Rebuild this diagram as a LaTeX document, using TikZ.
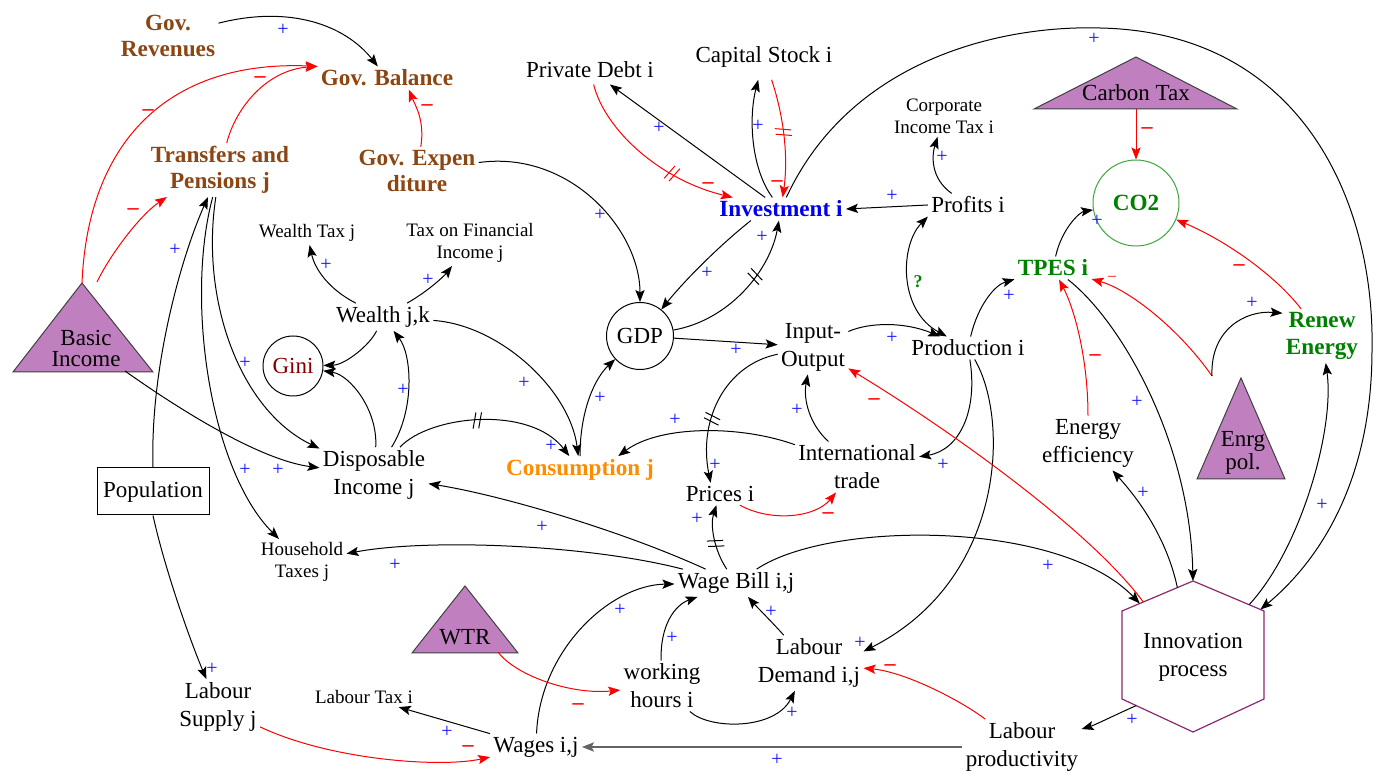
\documentclass[tikz,border=0pt]{standalone}
\usepackage{fontspec}
\setmainfont{Liberation Serif}
\usetikzlibrary{arrows.meta,decorations.markings,calc}
\definecolor{govbrown}{RGB}{140,70,20}
\definecolor{invblue}{RGB}{0,0,240}
\definecolor{ggreen}{RGB}{0,128,0}
\definecolor{co2line}{RGB}{60,165,60}
\definecolor{consorange}{RGB}{255,140,0}
\definecolor{ginired}{RGB}{130,0,0}
\definecolor{trifill}{RGB}{192,128,192}
\definecolor{hexline}{RGB}{140,40,110}
\definecolor{signblue}{RGB}{20,20,255}
\definecolor{prodgrey}{RGB}{100,100,100}
\begin{document}
\begin{tikzpicture}[x=0.5pt,y=-0.5pt,
 >={Stealth[length=6pt,width=4.6pt,inset=1.2pt]},
 lbl/.style={font=\fontsize{11.5}{14}\selectfont, align=center, inner sep=1.5pt},
 sm/.style={font=\fontsize{9.5}{11}\selectfont, align=center, inner sep=1.5pt},
 gov/.style={font=\fontsize{11.6}{13}\selectfont\bfseries, text=govbrown, align=center, inner sep=1.5pt},
 boldlbl/.style={font=\fontsize{11.6}{13.5}\selectfont\bfseries, align=center, inner sep=1.5pt},
 poslink/.style={->, black, line width=0.5pt},
 neglink/.style={->, red, line width=0.5pt},
 plussign/.style={text=signblue, font=\fontsize{10}{10}\selectfont, inner sep=0pt},
 minussign/.style={text=red, font=\fontsize{11}{11}\selectfont\bfseries, inner sep=0pt},
 delaymark/.style={postaction={decorate, decoration={markings, mark=at position #1 with {\draw[-] (-2.2pt,-4pt) -- (-0.6pt,4pt) (0.6pt,-4pt) -- (2.2pt,4pt);}}}},
 delaymark/.default=0.5,
 trishape/.style={fill=trifill, draw=black!75, line width=0.5pt}
]
\useasboundingbox (0,0) rectangle (1373,774);
\fill[white] (0,0) rectangle (1373,774);

% policy triangles
\path[trishape] (1034,109) -- (1136,57) -- (1237,109) -- cycle;
\path[trishape] (13,372) -- (82,283) -- (153,372) -- cycle;
\path[trishape] (1197,479) -- (1241,378) -- (1285,479) -- cycle;
\path[trishape] (412,653) -- (465,586) -- (518,653) -- cycle;
\coordinate (CTbase) at (1136,109);
\coordinate (BIapex) at (82,283);
\coordinate (BIapexR) at (97,282);
\coordinate (BIbase) at (125,371);
\coordinate (EPtop) at (1212,376);
\coordinate (WTRbase) at (498,652);

% hexagon
\coordinate (hxT) at (1193,581);
\coordinate (hxUR) at (1264,611);
\coordinate (hxLR) at (1264,699);
\coordinate (hxB) at (1193,732);
\coordinate (hxLL) at (1122,699);
\coordinate (hxUL) at (1122,611);
\draw[hexline, line width=0.6pt] (hxT) -- (hxUR) -- (hxLR) -- (hxB) -- (hxLL) -- (hxUL) -- cycle;

% nodes
\node[gov] (GovRev) at (168,36) {Gov.\\Revenues};
\node[gov] (GovBal) at (387,78) {Gov. Balance};
\node[gov] (Transf) at (220,170) {Transfers and\\Pensions j};
\node[gov] (GovExp) at (417,171) {Gov. Expen\\diture};
\node[lbl, inner ysep=3pt] (PrivDebt) at (590,70) {Private Debt i};
\node[lbl, inner ysep=6pt] (CapStock) at (764,57) {Capital Stock i};
\node[sm] (CorpTax) at (944,116) {Corporate\\Income Tax i};
\node[boldlbl, text=invblue] (Invest) at (781,209) {Investment i};
\node[lbl] (Profits) at (968,205) {Profits i};
\node[lbl] (CarbonTax) at (1136,93) {Carbon Tax};
\node[circle, draw=co2line, line width=0.5pt, minimum size=43pt, inner sep=0pt, font=\fontsize{11.6}{12}\selectfont\bfseries, text=ggreen] (CO2) at (1136,203) {CO2};
\node[boldlbl, text=ggreen] (TPES) at (1053,268) {TPES i};
\node[boldlbl, text=ggreen] (Renew) at (1322,336) {Renew\\Energy};
\node[sm] (WealthTax) at (307,233) {Wealth Tax j};
\node[sm] (TaxFin) at (470,243) {Tax on Financial\\Income j};
\node[lbl] (Wealth) at (383,317) {Wealth j,k};
\node[circle, draw, line width=0.5pt, minimum size=30pt, inner sep=0pt, font=\fontsize{11.5}{14}\selectfont, text=ginired] (Gini) at (293,366) {Gini};
\node[lbl, font=\fontsize{11.5}{10.5}\selectfont] (BasicInc) at (86,349) {Basic\\Income};
\node[circle, draw, line width=0.5pt, minimum size=33.5pt, inner sep=0pt, font=\fontsize{11.5}{14}\selectfont] (GDP) at (640,336) {GDP};
\node[lbl] (InOut) at (813,347) {Input-\\Output};
\node[lbl] (Prod) at (968,348) {Production i};
\node[lbl, draw, line width=0.5pt, minimum width=56pt, minimum height=23.5pt] (Pop) at (153,491.5) {Population};
\node[lbl] (Disp) at (374,475) {Disposable\\Income j};
\node[boldlbl, text=consorange] (Cons) at (580,470) {Consumption j};
\node[lbl] (IntTr) at (857,467) {International\\trade};
\node[lbl] (EnEff) at (1088,443) {Energy\\efficiency};
\node[lbl, font=\fontsize{11.5}{11.5}\selectfont] (EnrgPol) at (1243,453) {Enrg\\pol.};
\node[lbl] (Prices) at (720,494) {Prices i};
\node[sm] (HHTax) at (302,562) {Household\\Taxes j};
\node[lbl] (WageBill) at (736,583) {Wage Bill i,j};
\node[lbl] (WTR) at (465,637) {WTR};
\node[lbl] (WorkH) at (662,686) {working\\hours i};
\node[lbl] (LabDem) at (809,663) {Labour\\Demand i,j};
\node[lbl] (Innov) at (1193,657) {Innovation\\process};
\node[lbl] (LabProd) at (1022,747) {Labour\\productivity};
\node[lbl] (LabSup) at (218,707) {Labour\\Supply j};
\node[sm] (LabTax) at (364,697) {Labour Tax i};
\node[lbl] (Wages) at (536,747) {Wages i,j};

% government links
\draw[poslink] (GovRev) .. controls (290,5) and (345,25) .. (GovBal);
\draw[neglink] (BIapex) .. controls (88,140) and (170,60) .. (GovBal.north west);
\draw[neglink] (Transf) .. controls (235,110) and (265,70) .. (GovBal.north west);
\draw[neglink] (GovExp) .. controls (425,120) and (415,105) .. (GovBal.332);
\draw[neglink] (BIapexR) .. controls (110,255) and (140,215) .. (Transf.207);
\draw[poslink] (Pop.north) .. controls (150,370) and (180,260) .. (Transf);
\draw[poslink] (Transf) .. controls (200,300) and (240,410) .. (Disp);
\draw[poslink] (Transf) .. controls (185,300) and (210,470) .. (HHTax);
\draw[poslink] (BIbase) .. controls (180,410) and (260,460) .. (Disp);
\draw[poslink] (Pop.south) .. controls (165,570) and (190,640) .. (LabSup);

% wealth and consumption
\draw[poslink] (Wealth) .. controls (330,290) and (315,270) .. (WealthTax);
\draw[poslink] (Wealth) .. controls (430,290) and (445,275) .. (TaxFin);
\draw[poslink] (Wealth) .. controls (370,345) and (345,365) .. (Gini);
\draw[poslink] (Disp) .. controls (378,410) and (350,375) .. (Gini);
\draw[poslink] (Disp) .. controls (415,410) and (412,355) .. (Wealth);
\draw[poslink] (Wealth) .. controls (500,325) and (570,390) .. (Cons);
\draw[poslink, delaymark=0.45] (Disp) .. controls (430,415) and (530,405) .. (Cons);

% GDP
\draw[poslink] (GovExp) .. controls (570,150) and (640,230) .. (GDP);
\draw[poslink] (Cons) .. controls (580,410) and (595,378) .. (GDP);
\draw[poslink] (Invest.201) .. controls (720,245) and (685,280) .. (GDP);
\draw[poslink, delaymark=0.62] (GDP) .. controls (730,320) and (770,270) .. (Invest);
\draw[poslink] (GDP) -- (InOut);

% investment cluster
\draw[poslink] (Invest) -- (PrivDebt);
\draw[neglink, delaymark=0.65] (PrivDebt) .. controls (605,130) and (660,180) .. (Invest);
\draw[poslink] (Invest) .. controls (752,170) and (748,120) .. (CapStock);
\draw[neglink, delaymark=0.45] (CapStock) .. controls (785,120) and (788,160) .. (Invest);
\draw[poslink] (Profits.west) -- (Invest.east);
\draw[poslink] (Profits) .. controls (930,178) and (932,155) .. (CorpTax);
\draw[poslink] (Invest) .. controls (850,60) and (1000,25) .. (1100,28) .. controls (1300,32) and (1375,200) .. (1372,350) .. controls (1372,480) and (1320,560) .. ($(hxT)!0.95!(hxUR)$);

% production cluster
\draw[poslink] (InOut) .. controls (870,322) and (905,322) .. (Prod);
\draw[<->, black, line width=0.5pt] (Profits.south west) .. controls (900,245) and (898,310) .. (Prod);
\draw[poslink] (Prod) .. controls (978,305) and (995,285) .. (TPES);
\draw[poslink] (Prod) .. controls (978,410) and (960,450) .. (IntTr);
\draw[poslink] (Prod) .. controls (1010,420) and (1005,580) .. (LabDem.12);

% trade and prices
\draw[poslink] (IntTr) .. controls (740,425) and (660,425) .. (Cons.20);
\draw[poslink] (IntTr) .. controls (810,425) and (803,400) .. (InOut);
\draw[poslink, delaymark=0.6] (InOut) .. controls (725,365) and (698,420) .. (Prices.130);
\draw[neglink] (Prices) .. controls (770,522) and (815,518) .. (IntTr);
\draw[poslink, delaymark=0.42] (WageBill) .. controls (714,550) and (710,525) .. (Prices);

% wage bill
\draw[poslink] (WageBill) .. controls (620,530) and (500,495) .. (Disp);
\draw[poslink] (WageBill) .. controls (590,545) and (430,538) .. (HHTax);
\draw[poslink] (Wages) .. controls (540,650) and (610,585) .. (WageBill);
\draw[poslink] (WorkH) .. controls (660,625) and (675,605) .. (WageBill);
\draw[poslink] (LabDem) .. controls (770,620) and (755,605) .. (WageBill);
\draw[poslink] (WorkH) .. controls (710,730) and (775,730) .. (LabDem);
\draw[neglink] (WTRbase) .. controls (515,675) and (570,695) .. (WorkH);
\draw[neglink] (LabSup) .. controls (330,760) and (440,768) .. (Wages);
\draw[poslink] (Wages) -- (LabTax);
\draw[->, prodgrey, line width=1pt] (LabProd.west) -- (Wages.east);
\draw[neglink] (LabProd) .. controls (960,700) and (905,672) .. (LabDem);
\draw[poslink] ($(hxLL)!0.2!(hxB)$) .. controls (1115,715) and (1095,725) .. (LabProd);

% innovation and energy
\draw[poslink] (WageBill) .. controls (830,520) and (1060,520) .. ($(hxUL)!0.25!(hxT)$);
\draw[neglink] ($(hxUL)!0.3!(hxT)$) .. controls (1090,530) and (950,430) .. (InOut);
\draw[poslink] (TPES) .. controls (1120,320) and (1190,440) .. (hxT);
\draw[poslink] ($(hxT)!0.22!(hxUL)$) .. controls (1165,530) and (1130,490) .. (EnEff);
\draw[neglink] (EnEff) .. controls (1088,360) and (1075,310) .. (TPES);
\draw[neglink] (EPtop) .. controls (1180,330) and (1130,290) .. (TPES);
\draw[poslink] (EPtop) .. controls (1210,330) and (1245,310) .. (Renew.150);
\draw[neglink] (Renew) .. controls (1275,275) and (1225,240) .. (CO2);
\draw[poslink] (TPES) .. controls (1062,228) and (1080,212) .. (CO2);
\draw[neglink] (CTbase) -- (CO2);
\draw[poslink] ($(hxT)!0.79!(hxUR)$) .. controls (1300,550) and (1335,430) .. (Renew);

% polarity signs
\foreach \px/\py [count=\k] in {283/30, 175/250, 245/363, 245/470, 278/470, 212/669, 447/732, 777/760, 1132/720, 1048/566, 1137/402, 1143/493, 1252/303, 1097/221, 1009/296, 892/196, 942/157, 659/128, 758/126, 707/273, 762/237, 600/215, 600/398, 524/383, 551/446, 326/265, 428/280, 403/390, 675/420, 797/410, 943/465, 860/643, 715/465, 697/519, 542/527, 395/565, 620/610, 672/638, 771/612, 792/713, 1094/39, 1322/505, 736/350, 892/338}
  \node[plussign] (plus\k) at (\px,\py) {+};
\foreach \px/\py [count=\k] in {148/113, 260/80, 427/108, 133/212, 468/749, 890/668, 1095/358, 1239/268, 1147/131, 708/186, 777/184, 828/516, 578/707, 874/402}
  \node[minussign] (minus\k) at (\px,\py) {--};
\node[minussign, font=\fontsize{8}{8}\selectfont] (minussmall) at (1112,278) {--};
\node[text=ggreen, font=\fontsize{9}{9}\selectfont\bfseries, inner sep=0pt] (qmark) at (918,282) {?};
\end{tikzpicture}
\end{document}
